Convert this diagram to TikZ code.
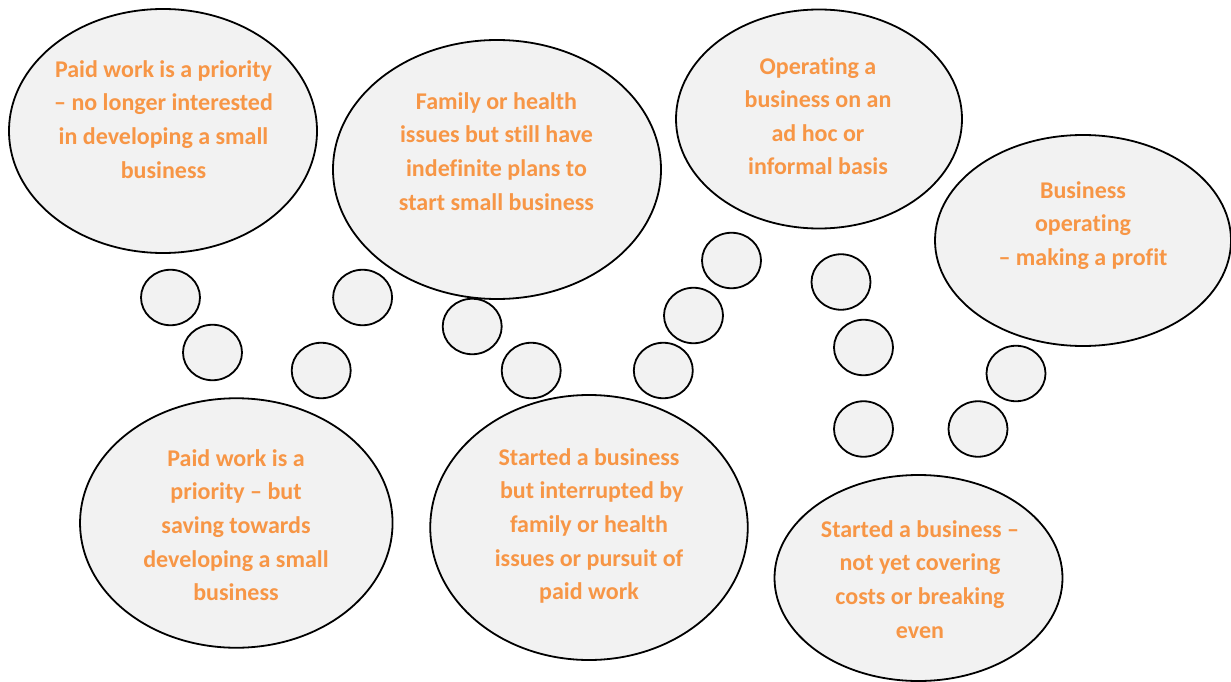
\documentclass[tikz,border=0pt]{standalone}
\usepackage{fontspec}
\setmainfont{Carlito}[Ligatures=CommonOff]
\usetikzlibrary{shapes.geometric}
\definecolor{bubblefill}{HTML}{F2F2F2}
\definecolor{bubbleorange}{HTML}{F79646}
% fixed height for the first line of every caption, so that its baseline sits
% a known distance below the top of the caption node
\newcommand\bubblestrut{\rule{0pt}{17pt}}
\begin{document}
\begin{tikzpicture}[x=1pt,y=-1pt,
  bubble/.style 2 args={ellipse, draw=black, fill=bubblefill, line width=1.8pt,
    inner sep=0pt, minimum width=#1, minimum height=#2},
  dot/.style={bubble={59pt}{55.5pt}},
  bubbletext/.style={text=bubbleorange, align=center, anchor=north, inner sep=0pt,
    font=\bfseries\fontsize{24}{33.6}\selectfont}]
\useasboundingbox (0,0) rectangle (1231,682);

% large thought bubbles
\node[bubble={308pt}{244pt}]   (e1) at (163,131) {};
\node[bubble={328pt}{259pt}]   (e2) at (497,169.5) {};
\node[bubble={286pt}{219pt}]   (e3) at (819,119) {};
\node[bubble={296pt}{211pt}]   (e4) at (1083,240.5) {};
\node[bubble={312.5pt}{249.5pt}] (e5) at (236.3,523) {};
\node[bubble={317.5pt}{265pt}] (e6) at (589,527.5) {};
\node[bubble={288pt}{206pt}]   (e7) at (918.5,578) {};

% small linking bubbles
\node[dot] (c1)  at (170.5,297.5) {};
\node[dot] (c2)  at (212.5,352.5) {};
\node[dot] (c3)  at (362.6,297.5) {};
\node[dot] (c4)  at (321.2,370.5) {};
\node[dot] (c5)  at (472.2,326.5) {};
\node[dot] (c6)  at (531.2,370.5) {};
\node[dot] (c7)  at (663.3,370.5) {};
\node[dot] (c8)  at (693.5,315.5) {};
\node[dot] (c9)  at (731.5,260.5) {};
\node[dot] (c10) at (841,282) {};
\node[dot] (c11) at (863.5,347.5) {};
\node[dot] (c12) at (863.5,429) {};
\node[dot] (c13) at (1016,373.5) {};
\node[dot] (c14) at (978,429) {};

% captions
\node[bubbletext] (t1) at (163.5,60) {\bubblestrut Paid work is a priority\\
  – no longer interested\\ in developing a small\\ business};
\node[bubbletext] (t2) at (496.5,92) {\bubblestrut Family or health\\
  issues but still have\\ indefinite plans to\\ start small business};
\node[bubbletext] (t3) at (818,57) {\bubblestrut Operating a\\
  business on an\\ ad hoc or\\ informal basis};
\node[bubbletext] (t4) at (1083,181) {\bubblestrut Business\\
  operating\\ – making a profit};
\node[bubbletext] (t5) at (236,449) {\bubblestrut Paid work is a\\
  priority – but\\ saving towards\\ developing a small\\ business};
\node[bubbletext] (t6) at (589,448) {\bubblestrut Started a business\\
  \hspace*{0.23em}but interrupted by\\ family or health\\ issues or pursuit of\\ paid work};
\node[bubbletext] (t7) at (920,520) {\bubblestrut Started a business –\\
  not yet covering\\ costs or breaking\\ even};
\end{tikzpicture}
\end{document}
